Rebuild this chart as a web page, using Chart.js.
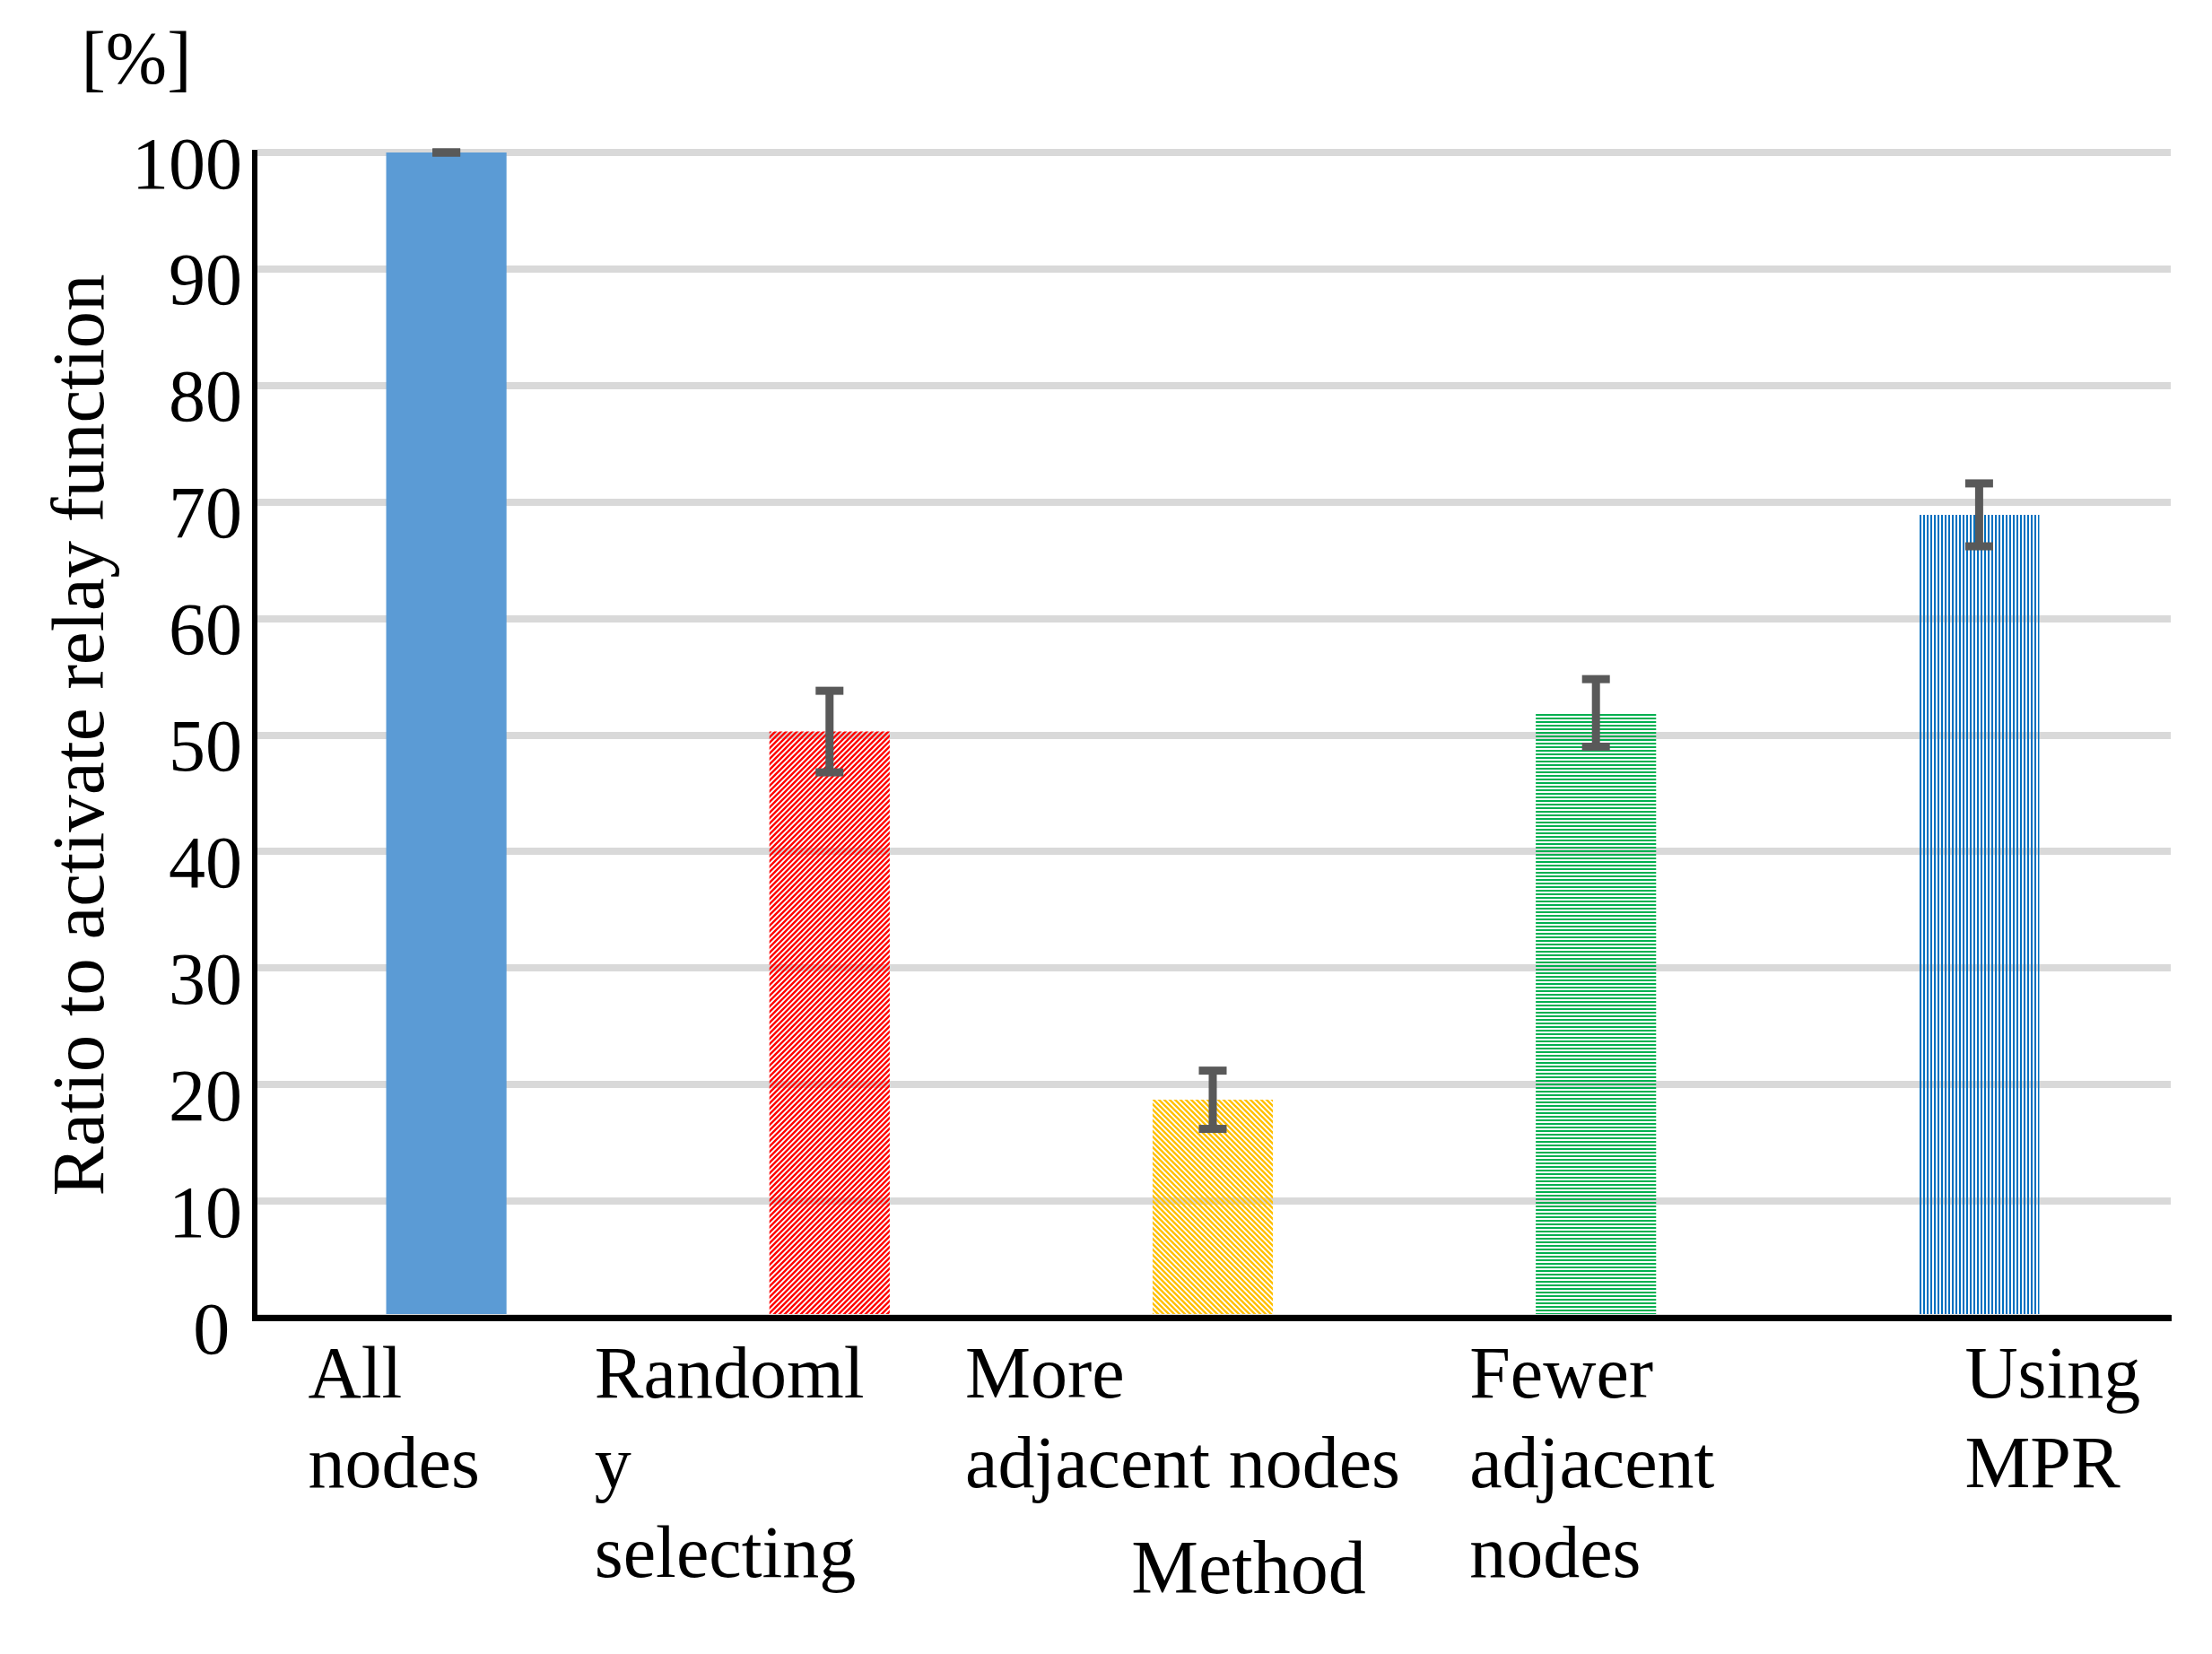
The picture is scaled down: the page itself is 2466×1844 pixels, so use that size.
<!DOCTYPE html>
<html>
<head>
<meta charset="utf-8">
<script src="https://cdn.jsdelivr.net/npm/chart.js@4/dist/chart.umd.min.js"></script>
<style>
  html, body { margin: 0; padding: 0; background: #fff; }
  #wrap { width: 2466px; height: 1844px; position: relative; }
</style>
</head>
<body>
<div id="wrap"><canvas id="c"></canvas></div>
<script>
// Daten
const CATEGORIES = [['All', 'nodes'], ['Randoml', 'y', 'selecting'], ['More', 'adjacent nodes'], ['Fewer', 'adjacent', 'nodes'], ['Using', 'MPR']];
const VALUES = [100, 50.3, 18.7, 51.9, 68.9];
const ERRORS = [0, 3.5, 2.5, 2.9, 2.7];
const Y_MIN = 0, Y_MAX = 100, Y_STEP = 10;
const Y_TITLE = 'Ratio to activate relay function';
const X_TITLE = 'Method';
const UNIT = '[%]';

// Layout / Stil
const FONT = "'Liberation Serif', 'Times New Roman', serif";
const LABEL_SHIFT = [-154, -262, -276, -141, -16];   // Textboxen sitzen unregelmäßig links vom Balken

const canvas = document.getElementById('c');
const ctx = canvas.getContext('2d');

// Schraffur-Kachel -> CanvasPattern
function hatch(color, kind) {
  const t = document.createElement('canvas');
  const n = (kind === 'h' || kind === 'v') ? 4 : 6;
  t.width = t.height = n;
  const g = t.getContext('2d');
  g.fillStyle = color;
  g.strokeStyle = color;
  if (kind === 'h') g.fillRect(0, 0, n, 2);
  else if (kind === 'v') g.fillRect(0, 0, 2, n);
  else {
    g.lineWidth = 2.4;
    g.beginPath();
    if (kind === '/') {
      g.moveTo(-1, n + 1); g.lineTo(n + 1, -1);
      g.moveTo(-1, 1); g.lineTo(1, -1);
      g.moveTo(n - 1, n + 1); g.lineTo(n + 1, n - 1);
    } else {
      g.moveTo(-1, -1); g.lineTo(n + 1, n + 1);
      g.moveTo(n - 1, -1); g.lineTo(n + 1, 1);
      g.moveTo(-1, n - 1); g.lineTo(1, n + 1);
    }
    g.stroke();
  }
  return ctx.createPattern(t, 'repeat');
}

const FILLS = [
  '#5b9bd5',
  hatch('#ff0000', '/'),
  hatch('#ffc000', '\\'),
  hatch('#00b050', 'h'),
  hatch('#0070c0', 'v'),
];

// Fehlerbalken, Kategorie-Beschriftungen, Einheit und x-Titel
const overlay = {
  id: 'overlay',
  afterDraw(chart) {
    const c = chart.ctx;
    const y = chart.scales.y;
    const area = chart.chartArea;
    const meta = chart.getDatasetMeta(0);
    c.save();

    // Fehlerbalken
    c.fillStyle = '#595959';
    meta.data.forEach((bar, i) => {
      const top = y.getPixelForValue(VALUES[i] + ERRORS[i]);
      const bot = y.getPixelForValue(VALUES[i] - ERRORS[i]);
      c.fillRect(bar.x - 4.5, top, 9, bot - top);
      c.fillRect(bar.x - 15.5, top - 4.5, 31, 9);
      c.fillRect(bar.x - 15.5, bot - 4.5, 31, 9);
    });

    c.fillStyle = '#000';
    c.textBaseline = 'alphabetic';

    // Kategorien
    c.font = `82px ${FONT}`;
    c.textAlign = 'left';
    meta.data.forEach((bar, i) => {
      const x = chart.scales.x.getPixelForTick(i) + LABEL_SHIFT[i];
      CATEGORIES[i].forEach((line, k) => c.fillText(line, x, area.bottom + 89 + k * 100));
    });

    // x-Titel
    c.textAlign = 'center';
    c.font = `84px ${FONT}`;
    c.fillText(X_TITLE, (area.left + area.right) / 2 + 40, area.bottom + 307);

    // Einheit
    c.font = `82px ${FONT}`;
    c.fillText(UNIT, 152, area.top - 78);
    c.restore();
  }
};

new Chart(canvas, {
  type: 'bar',
  data: {
    labels: CATEGORIES,
    datasets: [{
      data: VALUES,
      backgroundColor: FILLS,
      borderWidth: 0,
      barPercentage: 0.314,
      categoryPercentage: 1,
    }]
  },
  options: {
    responsive: true, maintainAspectRatio: false, animation: false, devicePixelRatio: 1,
    layout: { padding: { left: 0, top: 170, right: 46, bottom: 375 } },
    plugins: { legend: { display: false }, tooltip: { enabled: false } },
    scales: {
      x: {
        grid: { display: false, drawTicks: false },
        border: { color: '#000', width: 7, z: 1 },
        ticks: { display: false },
        afterFit: s => { s.height = 0; },
      },
      y: {
        min: Y_MIN, max: Y_MAX,
        ticks: {
          stepSize: Y_STEP, color: '#000', font: { family: FONT, size: 82 }, padding: 14, labelOffset: 18,
          callback: v => v === 0 ? '0\u2006' : v,   // die Null steht im Original etwas eingerückt
        },
        grid: { color: '#d9d9d9', lineWidth: 8, drawTicks: false },
        border: { color: '#000', width: 6 },
        title: { display: true, text: Y_TITLE, color: '#000', font: { family: FONT, size: 83 }, padding: { top: 43, bottom: 0 } },
        afterFit: s => { s.width = 284; },
      }
    }
  },
  plugins: [overlay]
});
</script>
</body>
</html>
